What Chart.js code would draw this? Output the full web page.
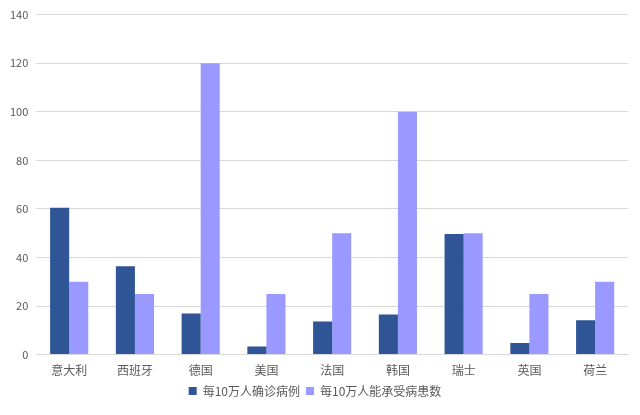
<!DOCTYPE html>
<html>
<head>
<meta charset="utf-8">
<script src="https://cdn.jsdelivr.net/npm/chart.js"></script>
<style>
  html, body { margin: 0; padding: 0; background: #fff; }
  #wrap { width: 640px; height: 415px; }
</style>
</head>
<body>
<div id="wrap"><canvas id="chart"></canvas></div>
<script>
// categories and values
const countries = ['意大利', '西班牙', '德国', '美国', '法国', '韩国', '瑞士', '英国', '荷兰'];
const confirmedPer100k = [60.5, 36.4, 16.9, 3.3, 13.6, 16.5, 49.7, 4.8, 14.1];
const capacityPer100k = [30, 25, 120, 25, 50, 100, 50, 25, 30];
const seriesNames = ['每10万人确诊病例', '每10万人能承受病患数'];
const yTicks = [0, 20, 40, 60, 80, 100, 120, 140];

const font = "'Noto Sans CJK SC', 'Noto Sans', sans-serif";

new Chart(document.getElementById('chart'), {
  type: 'bar',
  data: {
    labels: countries,
    datasets: [
      { label: seriesNames[0], data: confirmedPer100k, backgroundColor: '#2F5597' },
      { label: seriesNames[1], data: capacityPer100k, backgroundColor: '#9999FF' }
    ]
  },
  options: {
    responsive: true,
    maintainAspectRatio: false,
    animation: false,
    layout: { padding: { left: 2, right: 12, top: 7, bottom: 8 } },
    datasets: { bar: { categoryPercentage: 0.58, barPercentage: 1 } },
    plugins: {
      legend: {
        position: 'bottom',
        labels: {
          boxWidth: 8, boxHeight: 8, padding: 6,
          color: '#595959',
          font: { family: font, size: 12 }
        }
      },
      tooltip: { enabled: false }
    },
    scales: {
      x: {
        grid: { display: false },
        border: { color: '#d9d9d9' },
        ticks: { color: '#595959', font: { family: font, size: 12 }, padding: 1 }
      },
      y: {
        min: 0, max: 140,
        afterBuildTicks: axis => { axis.ticks = yTicks.map(v => ({ value: v })); },
        grid: { color: '#d9d9d9', drawTicks: false },
        border: { display: false },
        ticks: { color: '#595959', font: { family: font, size: 11 }, padding: 8 }
      }
    }
  }
});
</script>
</body>
</html>
